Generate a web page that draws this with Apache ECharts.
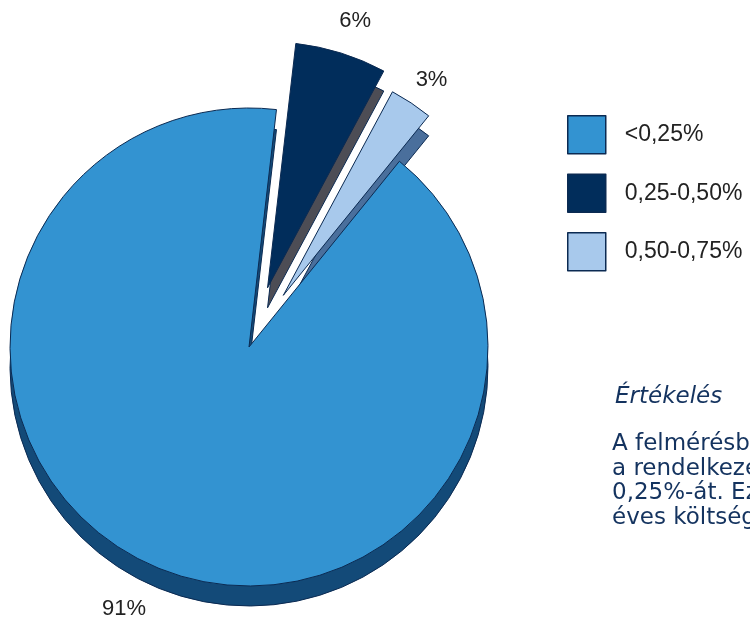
<!DOCTYPE html>
<html>
<head>
<meta charset="utf-8">
<script src="https://cdn.jsdelivr.net/npm/echarts@6/dist/echarts.min.js"></script>
<style>
  html, body { margin: 0; padding: 0; background: #ffffff; }
  #chart { width: 750px; height: 620px; }
</style>
</head>
<body>
<div id="chart"></div>
<script>
// Cost ratio bands and their share of respondents (%)
const categories = ['<0,25%', '0,25-0,50%', '0,50-0,75%'];
const shares = [91, 6, 3];
const explodedBands = [false, true, true];

// Text block on the right
const noteTitle = 'Értékelés';
const noteLines = [
  'A felmérésben részt vevő pénztárak',
  'a rendelkezésre álló vagyon kevesebb, mint',
  '0,25%-át. Ezt a',
  'éves költségként számolták el.'
];

// Face colours (top) and extrusion colours (side)
const topColors = ['#3393d1', '#012d5b', '#a8c9ec'];
const sideColors = ['#134a78', '#4d4d55', '#4a6f9c'];
const outline = '#0b2a52';
const textFont = 'Liberation Sans, Arial, Helvetica, sans-serif';
const noteFont = 'DejaVu Sans, Liberation Sans, sans-serif';

// Per-slice geometry: each slice is its own pie layer so it can have its own radius
const sliceRadius = [239, 246, 231];
const labelLen = [45, 34, 28];
const labelGap = [-7, -12, -11];

const pieCenterX = 249, pieCenterY = 347, depth = 20;
const startAngle = 51;
const explodeOffset = 62;
const hidden = { color: 'rgba(0,0,0,0)', borderWidth: 0 };

// One pie layer showing only slice k; the other values keep the angles in place
function sliceLayer(k, isSide) {
  const colors = isSide ? sideColors : topColors;
  const data = categories.map((name, i) => {
    const item = {
      name: name,
      value: shares[i],
      selected: explodedBands[i],
      itemStyle: i === k ? { color: colors[i] } : hidden,
      select: { itemStyle: i === k ? { color: colors[i], borderColor: outline, borderWidth: 1 } : hidden },
      label: { show: !isSide && i === k, distanceToLabelLine: labelGap[i] },
      labelLine: { show: false, length: labelLen[i], length2: 0 }
    };
    return item;
  });
  return {
    name: (isSide ? 'side-' : 'top-') + k,
    type: 'pie',
    z: isSide ? 1 : 3,
    zlevel: 0,
    silent: isSide,
    center: [pieCenterX, pieCenterY + (isSide ? depth : 0)],
    radius: sliceRadius[k],
    startAngle: startAngle,
    clockwise: true,
    selectedMode: 'multiple',
    selectedOffset: explodeOffset,
    avoidLabelOverlap: false,
    emphasis: { disabled: true },
    itemStyle: { borderColor: outline, borderWidth: 1 },
    label: {
      position: 'outside',
      formatter: '{c}%',
      fontFamily: textFont,
      fontSize: 22,
      color: '#222222'
    },
    data: data
  };
}

const series = [];
categories.forEach((_, k) => series.push(sliceLayer(k, false)));
categories.forEach((_, k) => series.push(sliceLayer(k, true)));

const chart = echarts.init(document.getElementById('chart'), null, { renderer: 'canvas' });

chart.setOption({
  animation: false,
  backgroundColor: '#ffffff',
  legend: {
    orient: 'vertical',
    left: 567,
    top: 115,
    padding: 0,
    itemWidth: 38,
    itemHeight: 38,
    itemGap: 19,
    icon: 'rect',
    selectedMode: false,
    data: categories.map((name, i) => ({
      name: name,
      itemStyle: { color: topColors[i], borderColor: outline, borderWidth: 1.5 }
    })),
    textStyle: {
      fontFamily: textFont,
      fontSize: 23,
      color: '#222222',
      padding: [0, 0, 0, 14]
    }
  },
  graphic: [
    {
      type: 'text',
      left: 615,
      top: 386,
      style: {
        text: noteTitle,
        font: 'italic 23px ' + noteFont,
        fill: '#14335f'
      }
    },
    {
      type: 'text',
      left: 612,
      top: 432,
      style: {
        text: noteLines.join('\n'),
        font: '23px ' + noteFont,
        lineHeight: 24.5,
        fill: '#14335f'
      }
    }
  ],
  series: series
});
</script>
</body>
</html>
